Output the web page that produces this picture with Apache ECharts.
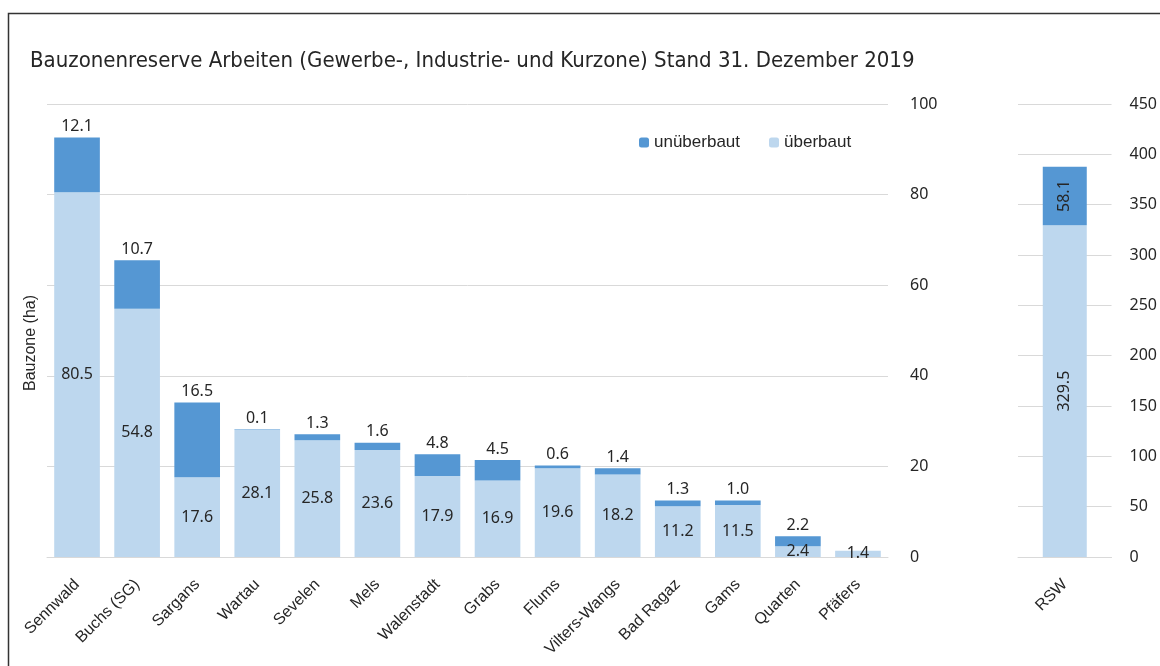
<!DOCTYPE html>
<html><head><meta charset="utf-8">
<script src="https://cdn.jsdelivr.net/npm/echarts@6/dist/echarts.min.js"></script>
<style>html,body{margin:0;padding:0;background:#fff}#c{width:1160px;height:666px}</style>
</head><body><div id="c"></div>
<script>
const categories = ['Sennwald','Buchs (SG)','Sargans','Wartau','Sevelen','Mels','Walenstadt','Grabs','Flums','Vilters-Wangs','Bad Ragaz','Gams','Quarten','Pfäfers'];
const ueberbaut = [80.5,54.8,17.6,28.1,25.8,23.6,17.9,16.9,19.6,18.2,11.2,11.5,2.4,1.4];
const unueberbaut = [12.1,10.7,16.5,0.1,1.3,1.6,4.8,4.5,0.6,1.4,1.3,1.0,2.2,null];
const totalCategories = ['RSW'];
const totalUeberbaut = [329.5];
const totalUnueberbaut = [58.1];
const leftTicks = {min:0,max:100,interval:20};
const rightTicks = {min:0,max:450,interval:50};

const FONT = 'Noto Sans';
const SANS = 'Liberation Sans';
const TXT = '#262626';
const DARK = '#5597D3';
const LIGHT = '#BDD7EE';
const GRID = '#D9D9D9';
const fmt = p => (p.value==null? '' : Number(p.value).toFixed(1));

const chart = echarts.init(document.getElementById('c'), null, {renderer:'canvas'});
chart.setOption({
  animation:false,
  backgroundColor:'#fff',
  textStyle:{fontFamily:FONT},
  title:{text:'Bauzonenreserve Arbeiten (Gewerbe-, Industrie- und Kurzone) Stand 31. Dezember 2019',
    left:25, top:45, textStyle:{fontFamily:'"Liberation Sans Narrow", "DejaVu Sans Condensed", sans-serif',fontSize:22,fontWeight:'normal',color:TXT}},
  legend:{data:[{name:'unüberbaut'},{name:'überbaut'}], left:634, top:129, itemWidth:10, itemHeight:10, itemGap:29,
    textStyle:{fontFamily:SANS,fontSize:17,color:TXT}},
  graphic:[
    {type:'rect', shape:{x:8.5,y:13.5,width:1200,height:700}, style:{fill:'none',stroke:'#333',lineWidth:1.5}, silent:true},
    {type:'text', x:31, y:343, rotation:Math.PI/2, style:{text:'Bauzone (ha)', font:'16px "Liberation Sans"', fill:TXT, align:'center', verticalAlign:'middle'}}
  ],
  grid:[
    {left:47, right:272, top:104, bottom:109},
    {left:1018, width:96, top:104, bottom:109}
  ],
  xAxis:[
    {type:'category', gridIndex:0, data:categories, axisTick:{show:false}, axisLine:{lineStyle:{color:GRID}},
      axisLabel:{rotate:45, fontFamily:SANS, fontSize:16, color:TXT, margin:25, interval:0}},
    {type:'category', gridIndex:1, data:totalCategories, axisTick:{show:false}, axisLine:{lineStyle:{color:GRID}},
      axisLabel:{rotate:45, fontFamily:SANS, fontSize:16, color:TXT, margin:25}}
  ],
  yAxis:[
    {type:'value', gridIndex:0, position:'right', min:leftTicks.min, max:leftTicks.max, interval:leftTicks.interval,
      splitLine:{lineStyle:{color:GRID}}, axisLine:{show:false}, axisTick:{show:false},
      axisLabel:{fontFamily:FONT, fontSize:16, color:TXT, margin:22}},
    {type:'value', gridIndex:1, position:'right', min:rightTicks.min, max:rightTicks.max, interval:rightTicks.interval,
      splitLine:{lineStyle:{color:GRID}}, axisLine:{show:false}, axisTick:{show:false},
      axisLabel:{fontFamily:FONT, fontSize:16, color:TXT, margin:18}}
  ],
  series:[
    {name:'überbaut', type:'bar', stack:'a', xAxisIndex:0, yAxisIndex:0, data:ueberbaut, barCategoryGap:'24%',
      itemStyle:{color:LIGHT}, label:{show:true, position:'inside', formatter:fmt, fontFamily:FONT, fontSize:16, color:TXT}},
    {name:'unüberbaut', type:'bar', stack:'a', xAxisIndex:0, yAxisIndex:0, data:unueberbaut, barCategoryGap:'24%',
      itemStyle:{color:DARK}, label:{show:true, position:'top', distance:3, formatter:fmt, fontFamily:FONT, fontSize:16, color:TXT}},
    {name:'überbaut', type:'bar', stack:'b', xAxisIndex:1, yAxisIndex:1, data:totalUeberbaut, barWidth:44,
      itemStyle:{color:LIGHT}, label:{show:true, position:'inside', rotate:90, formatter:fmt, fontFamily:FONT, fontSize:16, color:TXT}},
    {name:'unüberbaut', type:'bar', stack:'b', xAxisIndex:1, yAxisIndex:1, data:totalUnueberbaut, barWidth:44,
      itemStyle:{color:DARK}, label:{show:true, position:'inside', rotate:90, formatter:fmt, fontFamily:FONT, fontSize:16, color:TXT}}
  ]
});
</script></body></html>
